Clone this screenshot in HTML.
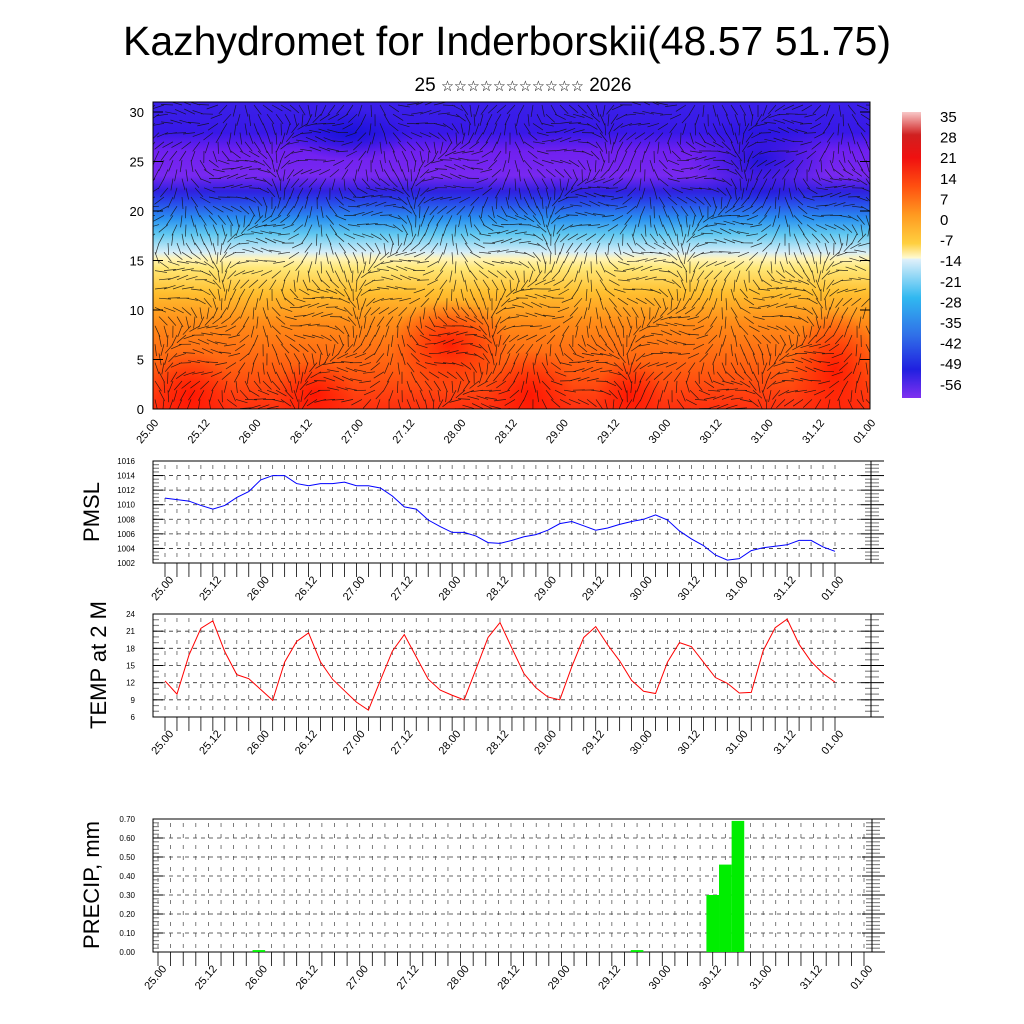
<!DOCTYPE html>
<html><head><meta charset="utf-8"><style>
html,body{margin:0;padding:0;background:#fff;}
svg{display:block;font-family:"Liberation Sans","DejaVu Sans",sans-serif;}
</style></head><body>
<svg id="chart" width="1024" height="1024" viewBox="0 0 1024 1024" xmlns="http://www.w3.org/2000/svg">
<defs>
<linearGradient id="vgrad" x1="0" y1="1" x2="0" y2="0">
<stop offset="0" stop-color="#ff3010"/>
<stop offset="0.12" stop-color="#ff5a10"/>
<stop offset="0.28" stop-color="#ff8c18"/>
<stop offset="0.38" stop-color="#ffc030"/>
<stop offset="0.46" stop-color="#ffe878"/>
<stop offset="0.49" stop-color="#fff4b8"/>
<stop offset="0.51" stop-color="#d8eef8"/>
<stop offset="0.57" stop-color="#60c8f0"/>
<stop offset="0.62" stop-color="#2a90f0"/>
<stop offset="0.68" stop-color="#2840e8"/>
<stop offset="0.71" stop-color="#3020e0"/>
<stop offset="0.76" stop-color="#7828f0"/>
<stop offset="0.84" stop-color="#7020f0"/>
<stop offset="0.90" stop-color="#3818e8"/>
<stop offset="1" stop-color="#3a20e8"/>
</linearGradient>
<linearGradient id="cbgrad" x1="0" y1="0" x2="0" y2="1">
<stop offset="0" stop-color="#f8c8c8"/>
<stop offset="0.08" stop-color="#d02020"/>
<stop offset="0.16" stop-color="#f01010"/>
<stop offset="0.26" stop-color="#ff5010"/>
<stop offset="0.36" stop-color="#ff9a20"/>
<stop offset="0.46" stop-color="#ffd040"/>
<stop offset="0.51" stop-color="#fffad0"/>
<stop offset="0.515" stop-color="#e0f0fa"/>
<stop offset="0.65" stop-color="#30b8f0"/>
<stop offset="0.78" stop-color="#3070e8"/>
<stop offset="0.90" stop-color="#2020e0"/>
<stop offset="1" stop-color="#8030f0"/>
</linearGradient>
<radialGradient id="hot"><stop offset="0" stop-color="#ff1000" stop-opacity="0.85"/><stop offset="1" stop-color="#ff1000" stop-opacity="0"/></radialGradient>
<radialGradient id="deep"><stop offset="0" stop-color="#1010d8" stop-opacity="0.8"/><stop offset="1" stop-color="#1010d8" stop-opacity="0"/></radialGradient>
<clipPath id="clipTop"><rect x="153" y="102" width="717" height="307"/></clipPath>
</defs>

<text x="507" y="55" font-size="41" text-anchor="middle">Kazhydromet for Inderborskii(48.57 51.75)</text>
<text x="523" y="91" font-size="19" text-anchor="middle">25 <tspan font-size="14.5">☆☆☆☆☆☆☆☆☆☆☆</tspan> 2026</text>

<g id="top">
<g clip-path="url(#clipTop)">
<rect x="153" y="102" width="717" height="307" fill="url(#vgrad)"/>
<ellipse cx="190" cy="395" rx="45" ry="45" fill="url(#hot)"/>
<ellipse cx="315" cy="395" rx="40" ry="35" fill="url(#hot)"/>
<ellipse cx="450" cy="345" rx="60" ry="45" fill="url(#hot)"/>
<ellipse cx="530" cy="395" rx="45" ry="45" fill="url(#hot)"/>
<ellipse cx="630" cy="395" rx="35" ry="35" fill="url(#hot)"/>
<ellipse cx="835" cy="370" rx="45" ry="60" fill="url(#hot)"/>
<ellipse cx="760" cy="160" rx="70" ry="45" fill="url(#deep)"/>
<ellipse cx="350" cy="135" rx="60" ry="25" fill="url(#deep)"/>
<g id="barbs" stroke="#111" stroke-width="0.7" opacity="0.85"></g>
</g>
<rect x="153" y="102" width="717" height="307" fill="none" stroke="#000" stroke-width="1"/>
<g id="topAxes" font-size="13"></g>
<rect x="902" y="112" width="19" height="286" fill="url(#cbgrad)"/>
<g id="cbLabels" font-size="15"></g>
</g>

<text transform="translate(99,512) rotate(-90)" font-size="22" text-anchor="middle">PMSL</text>
<text transform="translate(106,665) rotate(-90)" font-size="22" text-anchor="middle">TEMP at 2 M</text>
<text transform="translate(99,885) rotate(-90)" font-size="22" text-anchor="middle">PRECIP, mm</text>

<g id="pmslPanel"></g>
<g id="tempPanel"></g>
<g id="precipPanel"></g>
</svg>
<script>
const NS='http://www.w3.org/2000/svg';
const xLabels=['25.00','25.12','26.00','26.12','27.00','27.12','28.00','28.12','29.00','29.12','30.00','30.12','31.00','31.12','01.00'];
const pmslValues=[1010.9,1010.7,1010.5,1009.9,1009.4,1009.9,1011.0,1011.8,1013.4,1014.0,1014.0,1012.9,1012.6,1012.9,1012.9,1013.1,1012.6,1012.6,1012.3,1011.2,1009.7,1009.4,1007.9,1007.0,1006.2,1006.2,1005.7,1004.8,1004.7,1005.1,1005.6,1005.9,1006.5,1007.4,1007.7,1007.1,1006.5,1006.8,1007.3,1007.7,1008.0,1008.6,1007.9,1006.4,1005.3,1004.4,1003.1,1002.4,1002.6,1003.7,1004.1,1004.3,1004.5,1005.1,1005.1,1004.2,1003.6];
const tempValues=[12.3,10.0,16.8,21.5,22.8,17.4,13.4,12.7,10.8,8.9,15.6,19.2,20.7,15.6,12.6,10.6,8.6,7.2,12.4,17.5,20.4,16.5,12.6,10.7,9.8,9.0,14.4,19.9,22.5,18.0,13.6,11.1,9.5,9.0,14.8,19.9,21.8,18.6,15.8,12.4,10.5,10.1,15.6,19.0,18.3,15.6,12.9,11.9,10.2,10.3,17.6,21.6,23.1,18.7,15.7,13.6,12.1];
const precipIndex=[8,38,44,45,46];
const precipValues=[0.01,0.01,0.30,0.46,0.69];
const pmslTicks=[1002,1004,1006,1008,1010,1012,1014,1016];
const tempTicks=[6,9,12,15,18,21,24];
const precipTicks=[0,0.1,0.2,0.3,0.4,0.5,0.6,0.7];
const heightTicks=[0,5,10,15,20,25,30];
const cbLabels=['35','28','21','14','7','0','-7','-14','-21','-28','-35','-42','-49','-56'];

function el(tag,attrs,parent){const e=document.createElementNS(NS,tag);for(const k in attrs)e.setAttribute(k,attrs[k]);if(parent)parent.appendChild(e);return e;}

function panel(g,o){
  const {fl,fr,ft,fb,dl,dr,ymin,ymax,ticks,fmt,minor}=o;
  const xs=i=>dl+(dr-dl)*i/56;
  const ys=v=>fb-(v-ymin)/(ymax-ymin)*(fb-ft);
  for(const t of ticks){ if(t===ymin||t===ymax)continue;
    const l=el('line',{x1:fl,x2:fr,y1:ys(t),y2:ys(t),stroke:'#333','stroke-width':0.8,'stroke-dasharray':'4 4'},g);
    
    
  }
  for(let i=0;i<=56;i++){
    const x=xs(i); if(x<=fl||x>=fr)continue;
    el('line',{x1:x,x2:x,y1:ft+4,y2:fb-2,stroke:'#444','stroke-width':0.7,'stroke-dasharray':'4 7'},g);
  }
  const step=(ticks[1]-ticks[0])/minor;
  for(let v=ymin;v<=ymax+1e-9;v+=step){
    const major=Math.abs(((v-ymin)/(ticks[1]-ticks[0]))-Math.round((v-ymin)/(ticks[1]-ticks[0])))<1e-6;
    const y=ys(v);
    el('line',{x1:fl,x2:fl+(major?10:6),y1:y,y2:y,stroke:major?'#000':'#888','stroke-width':major?1:1.2},g);
    el('line',{x1:fr,x2:fr+(major?13:8),y1:y,y2:y,stroke:major?'#000':'#888','stroke-width':major?1:1.2},g);
    el('line',{x1:fr-(major?10:6),x2:fr,y1:y,y2:y,stroke:major?'#000':'#888','stroke-width':major?1:1.2},g);
  }
  for(const t of ticks){
    const tx=el('text',{x:fl-18,y:ys(t)+3,'font-size':8,'text-anchor':'end'},g);
    tx.textContent=fmt(t);
    
    
  }
  for(let i=0;i<=56;i++){
    el('line',{x1:xs(i),x2:xs(i),y1:fb,y2:fb+14,stroke:'#000','stroke-width':0.8},g);
  }
  xLabels.forEach((s,k)=>{
    const x=xs(k*4);
    const t=el('text',{transform:`translate(${x+9},${fb+17}) rotate(-50)`,'font-size':11,'text-anchor':'end'},g);
    t.textContent=s;
    
    
  });
  const fr_=el('rect',{x:fl,y:ft,width:fr-fl,height:fb-ft,fill:'none',stroke:'#000','stroke-width':1},g);
  
  
  return {xs,ys};
}

{const g=document.getElementById('pmslPanel');
 
 
 const a=panel(g,{fl:153,fr:871,ft:461,fb:563,dl:165,dr:835,ymin:1002,ymax:1016,ticks:pmslTicks,fmt:v=>String(v),minor:4});
 const p=el('polyline',{points:pmslValues.map((v,i)=>a.xs(i)+','+a.ys(v)).join(' '),fill:'none',stroke:'#0000ff','stroke-width':1},g);
 
 }
{const g=document.getElementById('tempPanel');
 
 
 const a=panel(g,{fl:153,fr:871,ft:614,fb:717,dl:165,dr:835,ymin:6,ymax:24,ticks:tempTicks,fmt:v=>String(v),minor:3});
 const p=el('polyline',{points:tempValues.map((v,i)=>a.xs(i)+','+a.ys(v)).join(' '),fill:'none',stroke:'#ff0000','stroke-width':1},g);
 
 }
{const g=document.getElementById('precipPanel');
 
 
 const a=panel(g,{fl:153,fr:872,ft:819,fb:952,dl:158,dr:864,ymin:0,ymax:0.7,ticks:precipTicks,fmt:v=>v.toFixed(2),minor:5});
 const w=(864-158)/56;
 precipValues.forEach((v,k)=>{
   const x=a.xs(precipIndex[k]);
   const r=el('rect',{x:x-w/2,y:a.ys(v),width:w,height:a.ys(0)-a.ys(v),fill:'#00ee00'},g);
   
   
 });}

{const g=document.getElementById('topAxes');
 const ys=h=>409-h*(409-112)/30;
 heightTicks.forEach(h=>{
   el('line',{x1:153,x2:163,y1:ys(h),y2:ys(h),stroke:'#000'},g);
   el('line',{x1:860,x2:870,y1:ys(h),y2:ys(h),stroke:'#000'},g);
   const t=el('text',{x:144,y:ys(h)+5,'text-anchor':'end'},g);
   t.textContent=String(h);
   
   
 });
 xLabels.forEach((s,k)=>{
   const x=153+717*k/14;
   const t=el('text',{transform:`translate(${x+6},${423}) rotate(-50)`,'font-size':11,'text-anchor':'end'},g);
   t.textContent=s;
   
   
 });
 const c=document.getElementById('cbLabels');
 cbLabels.forEach((s,k)=>{
   const t=el('text',{x:940,y:122+k*20.6},c);
   t.textContent=s;
   
   
 });
 const b=document.getElementById('barbs');
 
 
 let d='';
 for(let j=0;j<34;j++)for(let i=0;i<80;i++){
   const x=155+i*9+ (j%2)*4, y=105+j*9.2;
   const ang=Math.sin(i*0.37+j*0.21)*1.2+Math.cos(i*0.11-j*0.5)*0.8+1.6;
   const L=12;
   d+=`M${x.toFixed(1)} ${y.toFixed(1)}l${(L*Math.cos(ang)).toFixed(1)} ${(L*Math.sin(ang)).toFixed(1)}`;
 }
 el('path',{d},b);
}
</script>
</body></html>
